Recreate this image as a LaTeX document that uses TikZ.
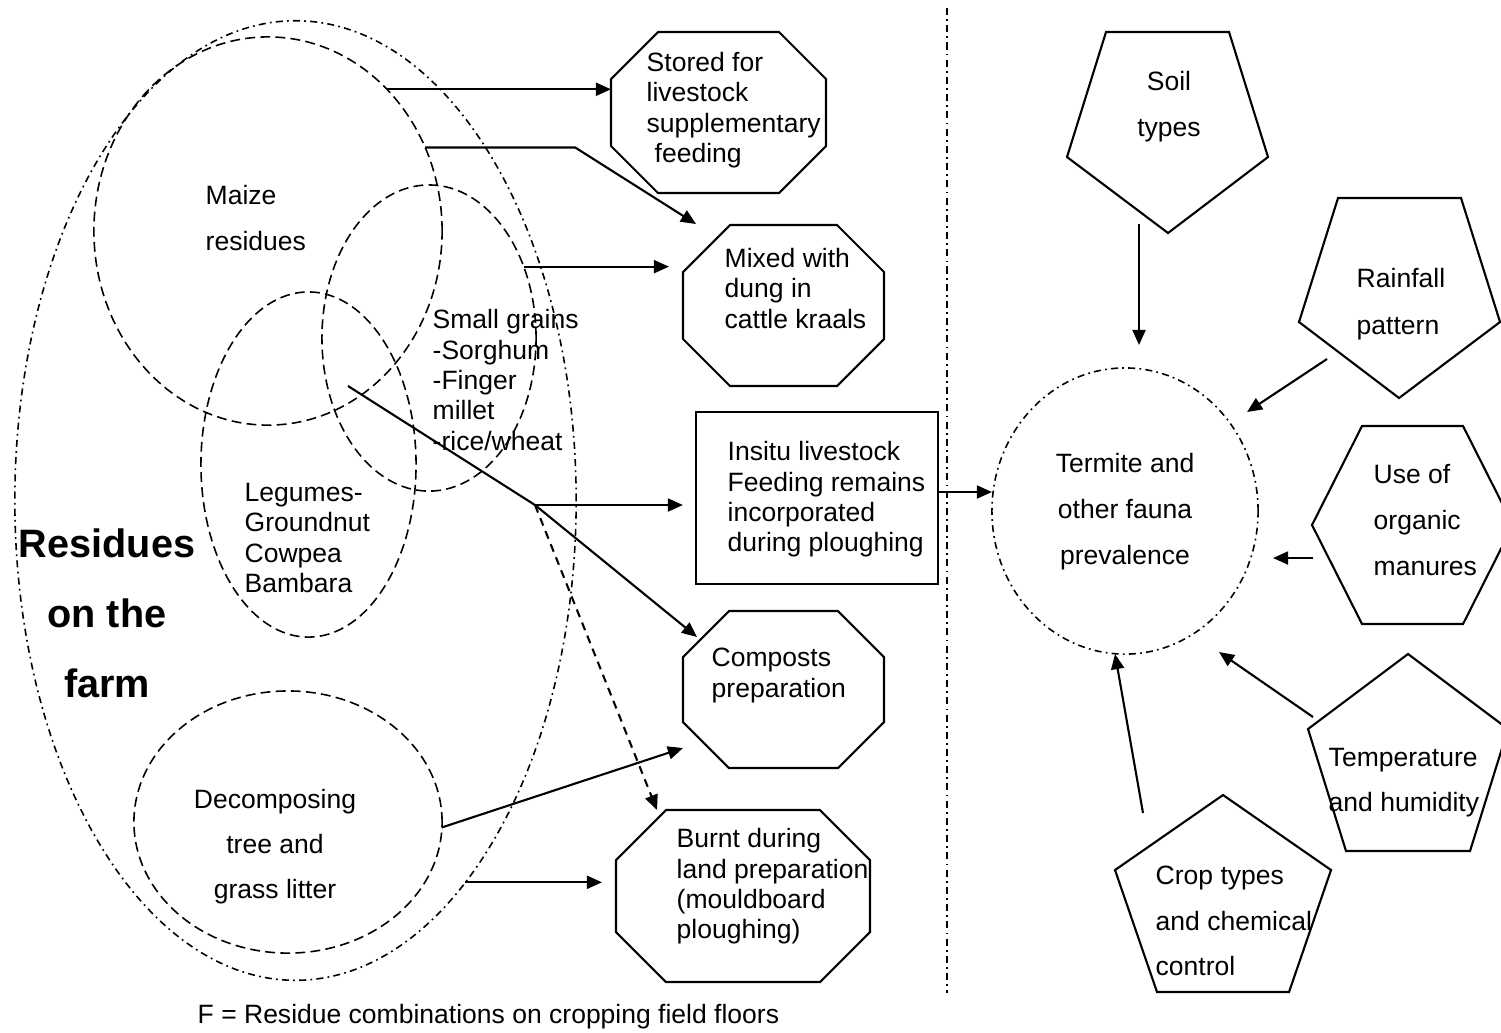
\documentclass[tikz,border=0pt]{standalone}
\usepackage{fontspec}
\setmainfont{Liberation Sans}
\usetikzlibrary{shapes.geometric,arrows.meta,calc}

\begin{document}
\begin{tikzpicture}[x=0.01cm, y=-0.01cm, % one unit = one pixel of the page
        edge/.style={line width=0.6pt},
        arrow/.style={line width=0.6pt, -{Triangle[length=4.3pt,width=3.7pt]}},
        dashedline/.style={line width=0.45pt, dash pattern=on 2.8pt off 1.5pt},
        dashdot/.style={line width=0.45pt, dash pattern=on 2pt off 1.2pt on 0.5pt off 1.2pt},
        blob/.style={ellipse, draw, inner sep=0pt, outer sep=0pt},
        slot/.style={rectangle, inner sep=0pt, outer sep=0pt},
        txt/.style={font=\fontsize{7.54}{8.63}\selectfont, inner sep=0pt, align=left, anchor=west, yshift=-0.03cm},
        loose/.style={font=\fontsize{7.54}{#1}\selectfont, inner sep=0pt, yshift=-0.03cm}]
        \useasboundingbox (0,0) rectangle (1501,1032);

        % residue groups on the farm
        \node[blob, dashdot, minimum width=5.61cm, minimum height=9.59cm] (farm) at (295.5,500.5) {};
        \node[blob, dashedline, minimum width=3.48cm, minimum height=3.88cm] (maize) at (268,231) {};
        \node[blob, dashedline, minimum width=2.14cm, minimum height=3.06cm] (sg) at (429,338) {};
        \node[blob, dashedline, minimum width=2.15cm, minimum height=3.45cm] (legumes) at (308.5,464.5) {};
        \node[blob, dashedline, minimum width=3.08cm, minimum height=2.62cm] (decomp) at (288,822) {};

        \node[txt, loose=13.1pt] (maizetxt) at (205,212) {Maize\\residues};
        \node[txt] (sgtxt) at (432,377) {Small grains\\-Sorghum\\-Finger\\millet\\-rice/wheat};
        \node[txt] (legtxt) at (244,535) {Legumes-\\Groundnut\\Cowpea\\Bambara};
        \node[loose=12.8pt, align=center] (decomptxt) at (275,844) {Decomposing\\tree and\\grass litter};
        \node[inner sep=0pt, align=center, font=\bfseries\fontsize{11.27}{19.9pt}\selectfont] (farmtxt) at (107,613) {Residues\\on the\\farm};

        % uses of the residues: name/left/top/right/bottom/chamfer
        \foreach \n/\l/\t/\r/\b/\c in {stored/611/32/826/193/47, mixed/683/225/884/386/47,
                compost/683/611/884/768/46, burnt/616/810/870/982/50}
        {
            \node[slot, minimum width={(\r-\l)*0.01cm}, minimum height={(\b-\t)*0.01cm}] (\n) at ({(\l+\r)/2},{(\t+\b)/2}) {};
            \draw[edge] (\l+\c,\t) -- (\r-\c,\t) -- (\r,\t+\c) -- (\r,\b-\c) -- (\r-\c,\b) -- (\l+\c,\b) -- (\l,\b-\c) -- (\l,\t+\c) -- cycle;
        }
        \node[slot, draw, edge, minimum width=2.42cm, minimum height=1.72cm] (insitu) at (817,498) {};

        \node[txt] (storedtxt) at (646,107) {Stored for\\livestock\\supplementary\\\hspace*{0.3em}feeding};
        \node[txt] (mixedtxt) at (724,285.5) {Mixed with\\dung in\\cattle kraals};
        \node[txt] (insitutxt) at (727,496.5) {Insitu livestock\\Feeding remains\\incorporated\\during ploughing};
        \node[txt] (composttxt) at (711,672.5) {Composts\\preparation};
        \node[txt] (burnttxt) at (676,883.5) {Burnt during\\land preparation\\(mouldboard\\ploughing)};

        % from residues to their uses
        \coordinate (overlap) at (348,386); % where maize, legumes and small grains meet
        \coordinate (fork) at (535,505);
        \draw[arrow] (maize.50) -- (maize.50 -| stored.west);
        \draw[arrow] (maize.28) -- ++(150,0) -- ($(mixed.north west)+(13,-1)$);
        \draw[arrow, shorten >=0.14cm] (sg.37) -- (sg.37 -| mixed.west);
        \draw[edge] (overlap) -- (fork);
        \draw[arrow, shorten >=0.13cm] (fork) -- (fork -| insitu.west);
        \draw[arrow] (fork) -- ($(compost.north west)+(14,26)$);
        \draw[arrow, dash pattern=on 2.3pt off 1.7pt] (fork) -- ($(burnt.north west)+(41,0)$);
        \draw[arrow] (decomp.-2) -- ($(compost.south west)+(0,-20)$);
        \draw[arrow, shorten >=0.14cm] (farm.-66) -- (farm.-66 -| burnt.west);

        % dividing line
        \draw[dashdot] (947,8) -- (947,993);

        % fauna and the factors acting on it
        \node[blob, dashdot, minimum width=2.66cm, minimum height=2.86cm] (termite) at (1125,511) {};
        \draw[edge] (1106,32) -- (1229,32) -- (1268,157) -- (1168,233) -- (1067,157) -- cycle; % soil
        \draw[edge] (1338,198) -- (1461,198) -- (1500,322) -- (1399,398) -- (1299,322) -- cycle; % rainfall
        \draw[edge] (1362,426) -- (1463,426) -- (1513,525) -- (1463,624) -- (1362,624) -- (1312,525) -- cycle; % manures
        \draw[edge] (1408,654) -- (1508,729) -- (1470,851) -- (1346,851) -- (1308,729) -- cycle; % temperature
        \draw[edge] (1223,795) -- (1331,870) -- (1289,992) -- (1157,992) -- (1115,870) -- cycle; % crops

        \node[loose=13.1pt, align=center] (termitetxt) at (1125,509) {Termite and\\other fauna\\prevalence};
        \node[loose=13.1pt, align=center] (soil) at (1169,104) {Soil\\types};
        \node[txt, loose=13.35pt] (rain) at (1356,298) {Rainfall\\pattern};
        \node[txt, loose=13pt] (manure) at (1373,514) {Use of\\organic\\manures};
        \node[txt, loose=12.8pt] (temp) at (1328,777) {Temperature\\and humidity};
        \node[txt, loose=12.95pt] (crop) at (1155,915) {Crop types\\and chemical\\control};

        \draw[arrow] ([yshift=0.06cm]insitu.east) -- ([yshift=0.06cm]insitu.east -| termite.west);
        \foreach \n/\x/\y in {soilout/1139/224, soilin/1139/345, rainout/1327/359, rainin/1247/412,
                manout/1313/558, manin/1273/558, tempout/1313/717, tempin/1219/652,
                cropout/1143/813, cropin/1115/654}
            \coordinate (\n) at (\x,\y);
        \foreach \s/\e in {soilout/soilin, rainout/rainin, manout/manin, tempout/tempin, cropout/cropin}
            \draw[arrow] (\s) -- (\e);

        \node[txt] (caption) at (197,1014) {F = Residue combinations on cropping field floors};
\end{tikzpicture}
\end{document}
